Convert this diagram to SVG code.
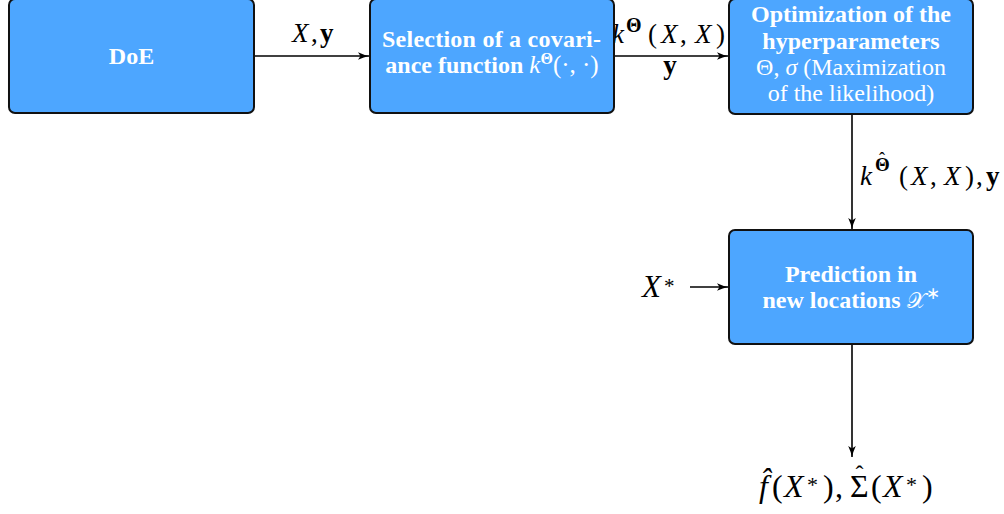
<svg xmlns="http://www.w3.org/2000/svg" width="1004" height="514" viewBox="0 0 1004 514">
<style>
.box{fill:#4da6ff;stroke:#111;stroke-width:2}
.nt{font-family:"Liberation Serif",serif;fill:#fff;font-size:24px;text-anchor:middle}
.b{font-weight:bold}
.n{font-weight:normal}
.i{font-style:italic}
.m{font-family:"Liberation Serif",serif;fill:#000}
.edge{stroke:#000;stroke-width:1.6;fill:none;marker-end:url(#arr)}
</style>
<defs>
<marker id="arr" markerWidth="12" markerHeight="10" refX="11" refY="5" orient="auto" markerUnits="userSpaceOnUse">
<path d="M0,1.2 Q6,4 11,5 Q6,6 0,8.8 L2.5,5 z" fill="#000"/>
</marker>
</defs>
<rect width="1004" height="514" fill="#fff"/>

<g id="connectors">
<line class="edge" x1="255" y1="56" x2="369" y2="56"/>
<line class="edge" x1="615" y1="56" x2="728" y2="56"/>
<line class="edge" x1="852" y1="115" x2="852" y2="229"/>
<line class="edge" x1="690" y1="287" x2="728" y2="287"/>
<line class="edge" x1="852" y1="345" x2="852" y2="457"/>
</g>

<g id="label-xy">
<text class="m" y="41.5" font-size="27"><tspan x="292" class="i">X</tspan><tspan x="311">,</tspan><tspan x="320" class="b">y</tspan></text>
</g>
<g id="label-kxx">
<text class="m" y="43" font-size="27"><tspan x="612" class="i">k</tspan><tspan x="626" y="31.5" class="b" font-size="20">Θ</tspan><tspan x="648" y="43">(</tspan><tspan x="661" class="i">X</tspan><tspan x="680">,</tspan><tspan x="695" class="i">X</tspan><tspan x="716">)</tspan></text>
<text class="m b" x="670" y="74" font-size="27" text-anchor="middle">y</text>
</g>
<g id="label-khat">
<text class="m" y="185" font-size="27"><tspan x="860" class="i">k</tspan><tspan x="875" y="170.5" class="b" font-size="19">Θ</tspan><tspan x="879" y="165" font-size="18">ˆ</tspan><tspan x="899" y="185">(</tspan><tspan x="911" class="i">X</tspan><tspan x="930">,</tspan><tspan x="944" class="i">X</tspan><tspan x="965">)</tspan><tspan x="976">,</tspan><tspan x="986" class="b">y</tspan></text>
</g>
<g id="label-xstar">
<text class="m" y="296.5" font-size="31"><tspan x="642" class="i">X</tspan><tspan x="664" y="293" font-size="21">*</tspan></text>
</g>
<g id="label-output">
<text class="m" y="497" font-size="32"><tspan x="759" class="i">f̂</tspan><tspan x="772">(</tspan><tspan x="784" class="i">X</tspan><tspan x="807" y="492" font-size="22">*</tspan><tspan x="823" y="497">)</tspan><tspan x="835">,</tspan><tspan x="850">Σ</tspan><tspan x="855.5" y="482" font-size="24">ˆ</tspan><tspan x="871" y="497">(</tspan><tspan x="883" class="i">X</tspan><tspan x="906" y="492" font-size="22">*</tspan><tspan x="922" y="497">)</tspan></text>
</g>

<g id="node-doe">
<rect class="box" x="9" y="-1" width="245" height="114" rx="6"/>
<text class="nt b" x="131.5" y="63.5">DoE</text>
</g>
<g id="node-selection">
<rect class="box" x="370" y="-1" width="244" height="114" rx="6"/>
<text class="nt b" x="491.5" y="47" textLength="219" lengthAdjust="spacing">Selection of a covari-</text>
<text class="nt b" x="492" y="73">ance function <tspan class="n i" font-size="25">k</tspan><tspan class="b" font-size="16" dy="-9">Θ</tspan><tspan class="n" font-size="25" dy="9">(·, ·)</tspan></text>
</g>
<g id="node-optimization">
<rect class="box" x="729" y="-1" width="244" height="115" rx="6"/>
<text class="nt b" x="851" y="22">Optimization of the</text>
<text class="nt b" x="851" y="48.5">hyperparameters</text>
<text class="nt" x="851" y="75">Θ, <tspan class="i">σ</tspan> (Maximization</text>
<text class="nt" x="851" y="101">of the likelihood)</text>
</g>
<g id="node-prediction">
<rect class="box" x="729" y="230" width="244" height="114" rx="6"/>
<text class="nt b" x="851" y="282">Prediction in</text>
<text class="nt b" x="851" y="308">new locations <tspan class="n" font-family="'DejaVu Sans','Noto Sans',serif" font-size="22">𝒳</tspan><tspan class="n" font-size="17" dy="-9">∗</tspan></text>
</g>
</svg>
